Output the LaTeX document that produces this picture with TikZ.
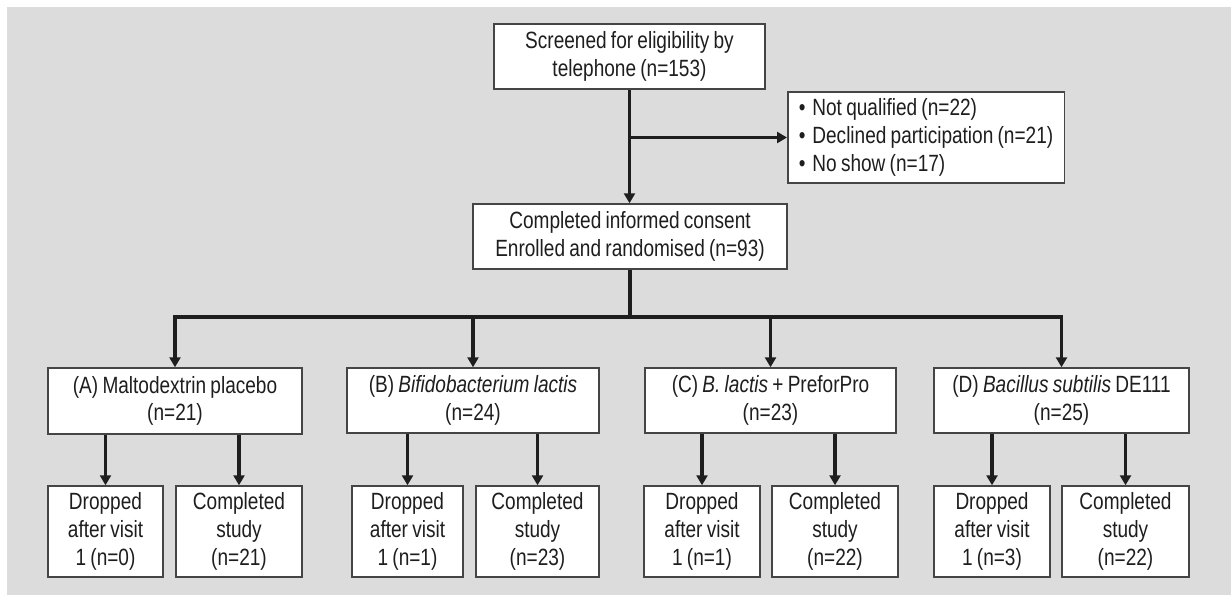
\documentclass[tikz,border=0pt]{standalone}
\usepackage{fontspec}
\setmainfont{Liberation Sans}[FakeStretch=0.81, WordSpace=0.81]
\usetikzlibrary{arrows.meta}
\definecolor{bggray}{HTML}{DCDCDC}
\definecolor{ink}{HTML}{1E1E1E}
\definecolor{boxline}{HTML}{454545}
\newcommand{\bul}{\textbullet\hspace{7pt}}
\tikzset{
  box/.style={draw=boxline, line width=1.5pt, fill=white, text=ink, align=center,
    inner sep=0pt, font={\fontsize{23.5}{27.7}\selectfont}},
  conn/.style={draw=ink, line width=3.5pt, line join=miter},
  arr/.style={conn, -{Triangle[width=11pt,length=10pt]}},
}
\begin{document}
\begin{tikzpicture}[x=1pt,y=-1pt]
\useasboundingbox (0,0) rectangle (1231,595);
\fill[white] (0,0) rectangle (1231,595);
\fill[bggray] (7,7) rectangle (1231,595);

\node[box, minimum width=271pt, minimum height=65pt] (top) at (629.5,56.5)
  {Screened for eligibility by\\telephone (n=153)};
\node[box, align=left, inner xsep=11pt, minimum height=91pt, anchor=west] (side) at (787,137.5)
  {\bul Not qualified (n=22)\\\bul Declined participation (n=21)\\\bul No show (n=17)};
\node[box, minimum width=314pt, minimum height=65pt] (mid) at (630,236.5)
  {Completed informed consent\\Enrolled and randomised (n=93)};

\node[box, minimum width=254pt, minimum height=66pt] (A) at (175,401)
  {(A) Maltodextrin placebo\\(n=21)};
\node[box, minimum width=252pt, minimum height=65pt] (B) at (473,400.5)
  {(B) \textit{Bifidobacterium lactis}\\(n=24)};
\node[box, minimum width=251pt, minimum height=65pt] (C) at (770.5,400.5)
  {(C) \textit{B. lactis} + PreforPro\\(n=23)};
\node[box, minimum width=255pt, minimum height=65pt] (D) at (1061.5,400.5)
  {(D) \textit{Bacillus subtilis} DE111\\(n=25)};

\node[box, minimum width=115pt, minimum height=91pt] (A1) at (105.5,531.5) {Dropped\\after visit\\1 (n=0)};
\node[box, minimum width=126pt, minimum height=91pt] (A2) at (239,531.5) {Completed\\study\\(n=21)};
\node[box, minimum width=111pt, minimum height=91pt] (B1) at (407.5,531.5) {Dropped\\after visit\\1 (n=1)};
\node[box, minimum width=123pt, minimum height=91pt] (B2) at (537.5,531.5) {Completed\\study\\(n=23)};
\node[box, minimum width=116pt, minimum height=91pt] (C1) at (702,531.5) {Dropped\\after visit\\1 (n=1)};
\node[box, minimum width=126pt, minimum height=91pt] (C2) at (835,531.5) {Completed\\study\\(n=22)};
\node[box, minimum width=116pt, minimum height=91pt] (D1) at (992,531.5) {Dropped\\after visit\\1 (n=3)};
\node[box, minimum width=127pt, minimum height=91pt] (D2) at (1125.5,531.5) {Completed\\study\\(n=22)};

% screening to enrolment
\draw[arr] (top.south) -- (top.south |- mid.north);
\coordinate (branch) at (top.south |- side.west);
\draw[arr] (branch) -- (side.west);

% randomisation bus
\coordinate (bus) at (630,317);
\draw[conn] (mid.south) -- (bus);
\draw[arr] (bus) -| (A.north);
\draw[arr] (bus) -| (B.north);
\draw[arr] (bus) -| (C.north);
\draw[arr] (bus) -| (D.north);

% group outcomes
\draw[arr] (A.south -| A1.north) -- (A1.north);
\draw[arr] (A.south -| A2.north) -- (A2.north);
\draw[arr] (B.south -| B1.north) -- (B1.north);
\draw[arr] (B.south -| B2.north) -- (B2.north);
\draw[arr] (C.south -| C1.north) -- (C1.north);
\draw[arr] (C.south -| C2.north) -- (C2.north);
\draw[arr] (D.south -| D1.north) -- (D1.north);
\draw[arr] (D.south -| D2.north) -- (D2.north);
\end{tikzpicture}
\end{document}
